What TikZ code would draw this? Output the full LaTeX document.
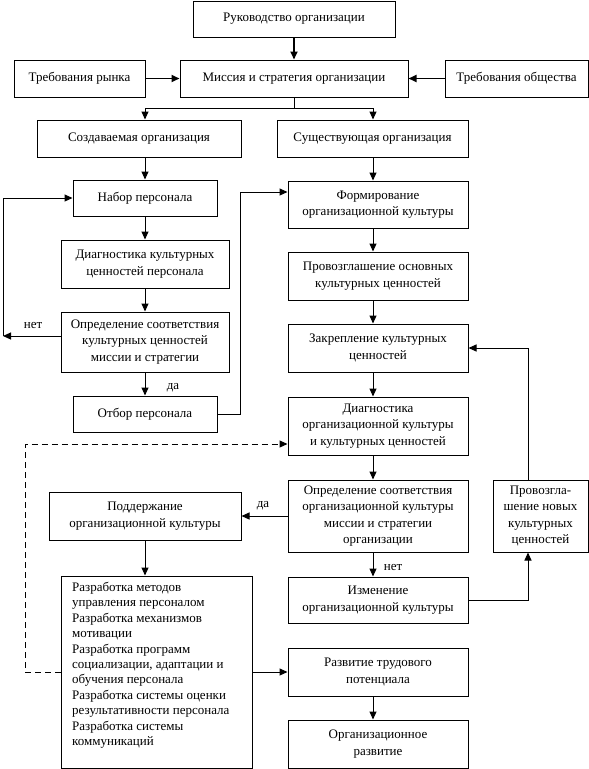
\documentclass[tikz,border=0pt]{standalone}
\usepackage{fontspec}
\setmainfont{Liberation Serif}
\usetikzlibrary{arrows.meta,calc}
\begin{document}
\begin{tikzpicture}[x=1pt,y=-1pt,
  box/.style={draw,line width=1pt,inner sep=0pt,align=center,font=\fontsize{13}{16.5}\selectfont},
  conn/.style={line width=1pt,-{Triangle[length=8pt,width=7pt]}},
  thick conn/.style={conn,line width=1.8pt},
  plain/.style={line width=1pt},
  lbl/.style={font=\fontsize{13}{15}\selectfont,inner sep=0pt}]
\useasboundingbox (0,0) rectangle (589,769);
\newcommand\bx[6]{\node[box,minimum width=#3-#2,minimum height=#5-#4] (#1) at ({(#2+#3)/2},{(#4+#5)/2}) {#6};}
\bx{ruk}{193}{395}{1}{37}{Руководство организации}
\bx{mis}{180}{408}{60}{97}{Миссия и стратегия организации}
\bx{rynok}{14}{145}{60}{97}{Требования рынка}
\bx{obsch}{445}{588}{60}{97}{Требования общества}
\bx{sozd}{37}{241}{120}{157}{Создаваемая организация}
\bx{sush}{277}{468}{120}{157}{Существующая организация}
\bx{nabor}{73}{217}{180}{216}{Набор персонала}
\bx{diagA}{61}{229}{240}{288}{Диагностика культурных\\ценностей персонала}
\bx{oprA}{61}{229}{312}{372}{Определение соответствия\\культурных ценностей\\миссии и стратегии}
\bx{otbor}{73}{217}{396}{432}{Отбор персонала}
\bx{form}{288}{468}{181}{228}{Формирование\\организационной культуры}
\bx{prov}{288}{468}{252}{300}{Провозглашение основных\\культурных ценностей}
\bx{zakr}{288}{468}{324}{372}{Закрепление культурных\\ценностей}
\bx{diagB}{288}{468}{397}{455}{Диагностика\\организационной культуры\\и культурных ценностей}
\bx{oprB}{288}{468}{480}{552}{Определение соответствия\\организационной культуры\\миссии и стратегии\\организации}
\bx{izm}{288}{468}{577}{623}{Изменение\\организационной культуры}
\bx{provnew}{493}{588}{480}{552}{Провозгла-\\шение новых\\культурных\\ценностей}
\bx{razv}{288}{468}{648}{696}{Развитие трудового\\потенциала}
\bx{orgrazv}{288}{468}{720}{768}{Организационное\\развитие}
\bx{podd}{49}{241}{492}{540}{Поддержание\\организационной культуры}
\bx{big}{61}{252}{576}{768}{}
\node[anchor=north west,inner sep=0pt,align=left,font=\fontsize{13}{15.4}\selectfont] (bigtext) at (72,582) {Разработка методов\\управления персоналом\\Разработка механизмов\\мотивации\\Разработка программ\\социализации, адаптации и\\обучения персонала\\Разработка системы оценки\\результативности персонала\\Разработка системы\\коммуникаций};
% coordinates
\coordinate (jn) at (294,108);
\coordinate (jl) at (145,108);
\coordinate (jr) at (373,108);
\coordinate (axR) at (373,0);
\coordinate (L1) at (3,336);
\coordinate (T) at (240,192);
\coordinate (R) at (528,0);
\coordinate (D) at (25,444);
% top
\draw[thick conn] (ruk.south) -- (mis.north);
\draw[thick conn] (rynok.east) -- (mis.west);
\draw[thick conn] (obsch.west) -- (mis.east);
\draw[plain] (mis.south) -- (jn);
\draw[conn] (jn) -- (jl) -- (jl |- sozd.north);
\draw[conn] (jn) -- (jr) -- (jr |- sush.north);
% left column
\draw[conn] (nabor.north |- sozd.south) -- (nabor.north);
\draw[conn] (nabor.south) -- (diagA.north -| nabor.south);
\draw[conn] (nabor.south |- diagA.south) -- (nabor.south |- oprA.north);
\draw[conn] (nabor.south |- oprA.south) -- (otbor.north);
\node[lbl] (da1) at (173,388) {да};
\draw[conn] (oprA.west |- L1) -- (L1);
\draw[conn] (L1) |- (nabor.west);
\node[lbl] (net1) at (33,325) {нет};
\draw[conn] (otbor.east) -| (T) -- (T -| form.west);
% right column
\draw[conn] (sush.south -| axR) -- (form.north -| axR);
\draw[conn] (form.south -| axR) -- (prov.north -| axR);
\draw[conn] (prov.south -| axR) -- (zakr.north -| axR);
\draw[conn] (zakr.south -| axR) -- (diagB.north -| axR);
\draw[conn] (diagB.south -| axR) -- (oprB.north -| axR);
\draw[conn] (oprB.south -| axR) -- (izm.north -| axR);
\node[lbl] (net2) at (393,567) {нет};
\draw[conn] (izm.east) -| (provnew.south -| R);
\draw[conn] (provnew.north -| R) |- (zakr.east);
\draw[conn] (oprB.west) -- (podd.east);
\node[lbl] (da2) at (263,506) {да};
\draw[conn] (podd.south) -- (podd.south |- big.north);
\draw[conn] (big.east) -- (razv.west);
\draw[conn] (razv.south -| axR) -- (orgrazv.north -| axR);
\draw[conn,dashed,dash pattern=on 6pt off 4pt] (big.west) -| (D) -- (D -| diagB.west);
\end{tikzpicture}
\end{document}
